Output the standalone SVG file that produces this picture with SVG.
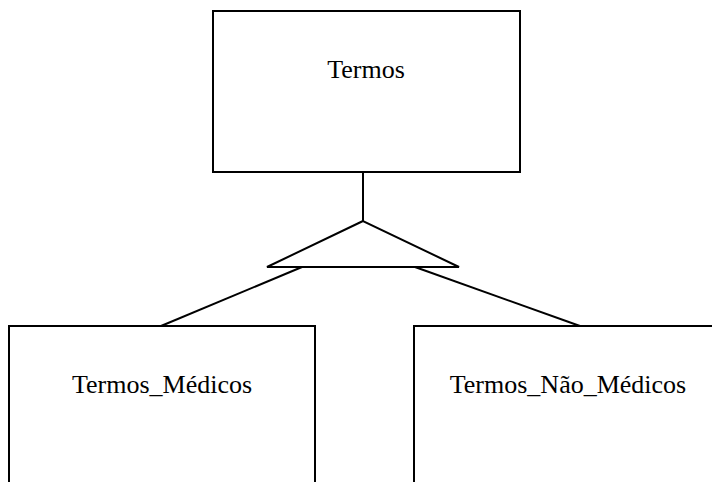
<svg xmlns="http://www.w3.org/2000/svg" width="712" height="482" viewBox="0 0 712 482">
<style>
.box{fill:#fff;stroke:#000;stroke-width:2}
.ln{fill:none;stroke:#000;stroke-width:2}
.lbl{font-family:"Liberation Serif","Times New Roman",serif;font-size:26px;fill:#000;text-anchor:middle}
</style>
<rect width="712" height="482" fill="#fff"/>
<g id="connectors">
<line class="ln" x1="363" y1="172" x2="363" y2="221"/>
<polygon class="ln" points="363,221 267,267 459,267"/>
<line class="ln" x1="302" y1="267" x2="161" y2="326"/>
<line class="ln" x1="415" y1="267" x2="580" y2="326"/>
</g>
<g id="termos">
<rect class="box" x="213" y="11" width="307" height="161"/>
<text class="lbl" x="366" y="78">Termos</text>
</g>
<g id="termos_medicos">
<rect class="box" x="9" y="326" width="306" height="170"/>
<text class="lbl" x="162" y="393">Termos_Médicos</text>
</g>
<g id="termos_nao_medicos">
<rect class="box" x="414" y="326" width="310" height="170"/>
<text class="lbl" x="568" y="393">Termos_Não_Médicos</text>
</g>
</svg>
